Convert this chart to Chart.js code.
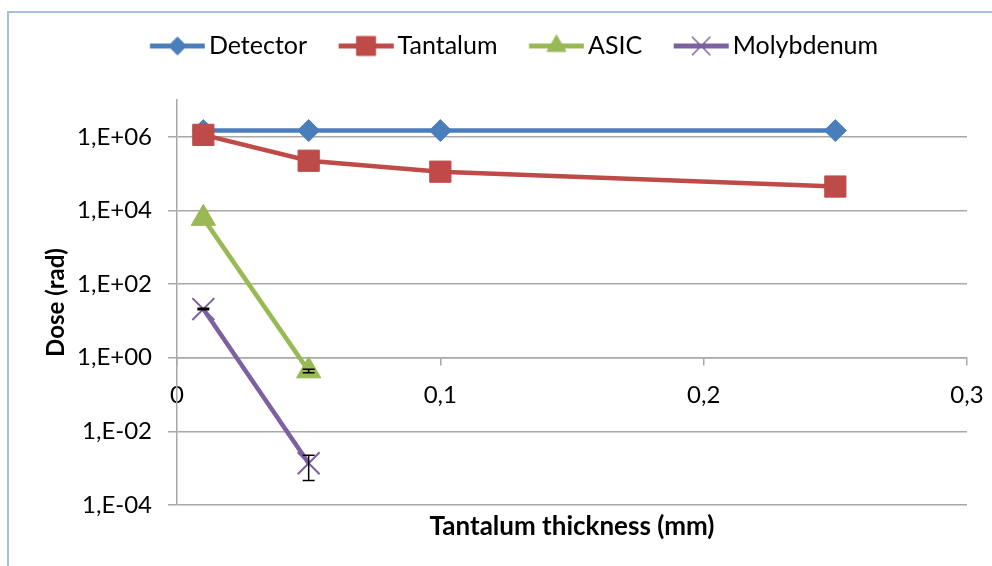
<!DOCTYPE html>
<html>
<head>
<meta charset="utf-8">
<script src="https://cdn.jsdelivr.net/npm/chart.js@4.4.1/dist/chart.umd.min.js"></script>
<style>
  html, body { margin: 0; padding: 0; background: #fff; }
  #wrap { position: relative; width: 992px; height: 566px; overflow: hidden; }
  #frame { position: absolute; left: 7px; top: 11px; right: -4px; bottom: -4px;
           border-left: 2px solid #a7bfe0; border-top: 2px solid #a7bfe0; }
  #chart { position: absolute; left: 0; top: 0; }
</style>
</head>
<body>
<div id="wrap">
  <div id="frame"></div>
  <canvas id="chart" width="992" height="566"></canvas>
</div>
<script>
// --- data ---
const thickness = [0.01, 0.05, 0.1, 0.25];           // mm
const detectorDose = [1.48e6, 1.48e6, 1.48e6, 1.48e6];
const tantalumDose = [1.13e6, 2.24e5, 1.13e5, 4.46e4];
const asicDose = [6.1e3, 0.44];
const molybdenumDose = [21, 1.36e-3];
const asicErr = [0, 0.05];
const molybdenumErr = [1, 0.0009];

const seriesNames = ['Detector', 'Tantalum', 'ASIC', 'Molybdenum'];
const xTicks = [0, 0.1, 0.2, 0.3];
const xTickLabels = ['0', '0,1', '0,2', '0,3'];
const yTicks = [1e-4, 1e-2, 1, 1e2, 1e4, 1e6];
const yTickLabels = ['1,E-04', '1,E-02', '1,E+00', '1,E+02', '1,E+04', '1,E+06'];

// --- styles ---
const FONT = 'Lato, "Open Sans", sans-serif';
const TEXT = '#000';
const GRID = '#a8a8a8';
const colors = ['#4a7ebb', '#be4b48', '#98b954', '#7d60a0'];
const markers = ['rectRot', 'rect', 'triangle', 'crossRot'];
const markerRadius = [11, 15, 14, 15.5];
const legendRadius = [9, 13.4, 11, 13];

const LEG_FS = 25;
const LEG_LINE = 55;   // length of the line sample
const LEG_GAP = 4;     // line sample to text
const LEG_BOX = LEG_LINE + LEG_GAP - LEG_FS / 2;

Chart.defaults.font.family = FONT;
Chart.defaults.color = TEXT;

const pts = ys => ys.map((y, i) => ({ x: thickness[i], y }));

// legend sample: line with the series marker in its middle
function legendIcon(i) {
  const w = Math.ceil(2 * (LEG_LINE - LEG_BOX / 2)), h = LEG_FS;
  const c = document.createElement('canvas');
  c.width = w; c.height = h;
  const g = c.getContext('2d');
  const x0 = w / 2 - LEG_BOX / 2;
  g.strokeStyle = colors[i];
  g.fillStyle = colors[i];
  g.lineWidth = 5;
  g.beginPath();
  g.moveTo(x0, h / 2);
  g.lineTo(x0 + LEG_LINE, h / 2);
  g.stroke();
  g.lineWidth = markers[i] === 'crossRot' ? 1.5 : 1;
  Chart.helpers.drawPoint(g, {
    pointStyle: markers[i], radius: legendRadius[i], rotation: 0,
    borderWidth: g.lineWidth
  }, x0 + LEG_LINE / 2, h / 2);
  return c;
}
const icons = seriesNames.map((_, i) => legendIcon(i));

function series(i, ys, extra) {
  return Object.assign({
    label: seriesNames[i],
    data: pts(ys),
    showLine: true,
    tension: 0,
    borderColor: colors[i],
    backgroundColor: colors[i],
    borderWidth: 4.5,
    pointStyle: markers[i],
    pointRadius: markerRadius[i],
    pointHoverRadius: markerRadius[i],
    pointBackgroundColor: colors[i],
    pointBorderColor: colors[i],
    pointBorderWidth: markers[i] === 'crossRot' ? 2 : 1,
    order: 4 - i
  }, extra || {});
}

// vertical error bars with caps
const errorBars = {
  id: 'errorBars',
  afterDatasetsDraw(chart) {
    const { ctx, scales: { x, y } } = chart;
    const cap = 6;
    ctx.save();
    ctx.strokeStyle = '#000';
    ctx.lineWidth = 1.5;
    chart.data.datasets.forEach(ds => {
      if (!ds.errorBars) return;
      ds.data.forEach((p, i) => {
        const e = ds.errorBars[i];
        if (!e) return;
        const px = x.getPixelForValue(p.x);
        const top = y.getPixelForValue(p.y + e);
        const bot = y.getPixelForValue(p.y - e);
        ctx.beginPath();
        ctx.moveTo(px, top); ctx.lineTo(px, bot);
        ctx.moveTo(px - cap, top); ctx.lineTo(px + cap, top);
        ctx.moveTo(px - cap, bot); ctx.lineTo(px + cap, bot);
        ctx.stroke();
      });
    });
    ctx.restore();
  }
};

const yTitleFont = { family: FONT, size: 24, weight: 'bold' };
const xTitleFont = { family: FONT, size: 26, weight: 'bold' };
const half = f => f.size * 1.2 / 2;

new Chart(document.getElementById('chart'), {
  type: 'scatter',
  data: {
    datasets: [
      series(0, detectorDose),
      series(1, tantalumDose),
      series(2, asicDose, { errorBars: asicErr }),
      series(3, molybdenumDose, { errorBars: molybdenumErr })
    ]
  },
  plugins: [errorBars],
  options: {
    responsive: false,
    animation: false,
    devicePixelRatio: 1,
    layout: { padding: { top: 2, left: 61, right: 25, bottom: 0 } },
    plugins: {
      tooltip: { enabled: false },
      legend: {
        position: 'top',
        labels: {
          usePointStyle: true,
          pointStyleWidth: LEG_BOX,
          padding: 31.5,
          font: { family: FONT, size: LEG_FS },
          color: TEXT,
          generateLabels: () => seriesNames.map((name, i) => ({
            text: name,
            pointStyle: icons[i],
            fillStyle: colors[i],
            strokeStyle: colors[i],
            lineWidth: 0,
            hidden: false,
            datasetIndex: i,
            fontColor: TEXT
          }))
        }
      }
    },
    scales: {
      x: {
        type: 'linear',
        min: 0, max: 0.3,
        position: { y: 1 },
        afterBuildTicks: s => { s.ticks = xTicks.map(v => ({ value: v })); },
        afterFit: s => { s.paddingLeft = 0; s.paddingRight = 0; },
        ticks: {
          callback: v => xTickLabels[xTicks.indexOf(v)],
          font: { family: FONT, size: 24 },
          color: TEXT,
          padding: 16,
          maxRotation: 0,
          autoSkip: false
        },
        grid: { drawOnChartArea: false, color: GRID, lineWidth: 1.5, tickLength: 7 },
        border: { color: GRID, width: 1.5 }
      },
      xTop: {
        // spacing between legend and plot
        type: 'linear', axis: 'x', position: 'top',
        ticks: { display: false }, grid: { display: false }, border: { display: false },
        afterFit: s => { s.height = 31.5; }
      },
      xTitle: {
        type: 'linear', axis: 'x', position: 'bottom',
        ticks: { display: false }, grid: { display: false }, border: { display: false },
        title: {
          display: true, text: 'Tantalum thickness (mm)', font: xTitleFont, color: TEXT,
          padding: { top: 0, bottom: 39 - half(xTitleFont) }
        },
        afterFit: s => { s.height = 61; }
      },
      y: {
        type: 'logarithmic',
        min: 1e-4, max: 1e7,
        afterBuildTicks: s => { s.ticks = yTicks.map(v => ({ value: v })); },
        ticks: {
          callback: v => yTickLabels[yTicks.indexOf(v)],
          font: { family: FONT, size: 24 },
          color: TEXT,
          padding: 16,
          autoSkip: false
        },
        grid: { color: GRID, lineWidth: 1.5, tickLength: 9 },
        border: { color: GRID, width: 1.5 },
        title: {
          display: true, text: 'Dose (rad)', font: yTitleFont, color: TEXT,
          padding: { top: -5 - half(yTitleFont), bottom: 0 }
        },
        afterFit: s => { s.width = 116; }
      }
    }
  }
});
</script>
</body>
</html>
